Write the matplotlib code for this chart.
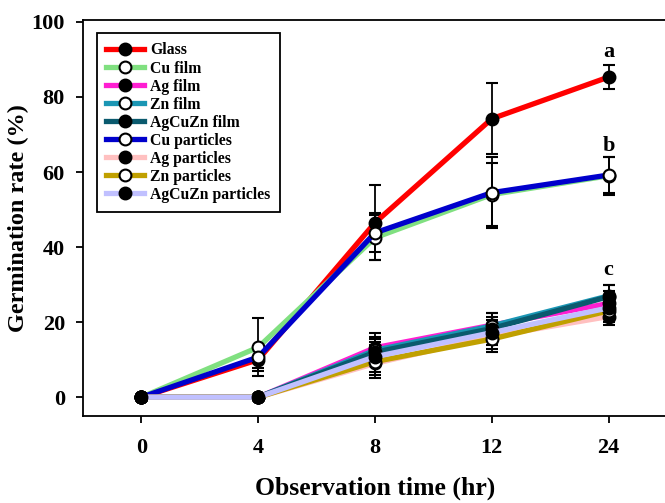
import numpy as np
import matplotlib
matplotlib.use("Agg")
import matplotlib.pyplot as plt
from matplotlib.lines import Line2D

plt.rcParams['font.family'] = ['Liberation Serif', 'DejaVu Serif']
plt.rcParams['font.weight'] = 'bold'

# Data
time_labels = ['0', '4', '8', '12', '24']
series_names = ['Glass', 'Cu film', 'Ag film', 'Zn film', 'AgCuZn film',
                'Cu particles', 'Ag particles', 'Zn particles', 'AgCuZn particles']
glass = [0, 10, 46.5, 74.2, 85.3]
cu_film = [0, 13.3, 42.5, 54, 59]
ag_film = [0, 0, 13.2, 19.2, 25]
zn_film = [0, 0, 12.5, 19, 27]
agcuzn_film = [0, 0, 12, 18.3, 26.8]
cu_particles = [0, 10.7, 43.8, 54.5, 59.2]
ag_particles = [0, 0, 9, 16.2, 21.5]
zn_particles = [0, 0, 9.5, 15.5, 23]
agcuzn_particles = [0, 0, 10.8, 17.2, 23.8]

glass_err = [0, 3, 10, 9.5, 3.2]
cu_film_err = [0, 7.7, 6, 8.5, 5]
ag_film_err = [0, 0, 3.8, 3.3, 3.2]
zn_film_err = [0, 0, 3.5, 3.5, 3]
agcuzn_film_err = [0, 0, 3.5, 3.2, 3.2]
cu_particles_err = [0, 3, 5.2, 9.5, 4.8]
ag_particles_err = [0, 0, 3.2, 3.3, 2.3]
zn_particles_err = [0, 0, 4.5, 3.5, 3]
agcuzn_particles_err = [0, 0, 4, 3.3, 3]

values = [glass, cu_film, ag_film, zn_film, agcuzn_film,
          cu_particles, ag_particles, zn_particles, agcuzn_particles]
errors = [glass_err, cu_film_err, ag_film_err, zn_film_err, agcuzn_film_err,
          cu_particles_err, ag_particles_err, zn_particles_err, agcuzn_particles_err]
colors = ['#ff0000', '#80e080', '#ff1ed2', '#1a96b4', '#0a5a6e',
          '#0000cc', '#ffc0c0', '#c0a000', '#c0c0ff']
filled = [True, False, True, False, True, False, True, False, True]

letters = ['a', 'b', 'c']
letter_y = [92, 67, 34]

fig = plt.figure(figsize=(6.65, 5.03), dpi=100)
ax = fig.add_axes([83 / 665, 1 - 416 / 503, 584 / 665, 396 / 503])

x = np.arange(len(time_labels))
handles = []
for name, v, e, c, f in zip(series_names, values, errors, colors, filled):
    mfc = 'black' if f else 'white'
    ax.errorbar(x, v, yerr=e, color=c, lw=3.8, ecolor='black', elinewidth=1.3,
                capsize=4, capthick=1.3, marker='o', markersize=8.5,
                markerfacecolor=mfc, markeredgecolor='black', markeredgewidth=1.5)
    handles.append(Line2D([], [], color=c, lw=3.8, marker='o', markersize=8.5,
                          markerfacecolor=mfc, markeredgecolor='black',
                          markeredgewidth=1.5, label=name))

for xi, lt, ly in zip([4, 4, 4], letters, letter_y):
    ax.text(xi, ly, lt, ha='center', va='center', fontsize=16, fontweight='bold')

ax.set_xlim(-0.5, 4.5)
ax.set_ylim(-5, 100.5)
ax.set_xticks(x)
ax.set_xticklabels(time_labels)
ax.set_yticks([0, 20, 40, 60, 80, 100])
ax.tick_params(axis='both', direction='out', length=5, width=1.3, labelsize=16)
ax.tick_params(axis='x', pad=11)
ax.tick_params(axis='y', pad=8)
for s in ax.spines.values():
    s.set_linewidth(1.3)
ax.spines['right'].set_visible(False)

ax.set_xlabel('Observation time (hr)', fontsize=18.5, fontweight='bold', labelpad=13)
ax.set_ylabel('Germination rate (%)', fontsize=17.5, fontweight='bold', labelpad=2)

leg = ax.legend(handles=handles, loc='upper left', bbox_to_anchor=(0.024, 0.967),
                borderaxespad=0, fontsize=11.3, handlelength=2.4, labelspacing=0.13,
                handletextpad=0.4, fancybox=False, framealpha=1, edgecolor='black',
                borderpad=0.6)
leg.get_frame().set_linewidth(1.3)

fig.savefig('out.png', dpi=100)
